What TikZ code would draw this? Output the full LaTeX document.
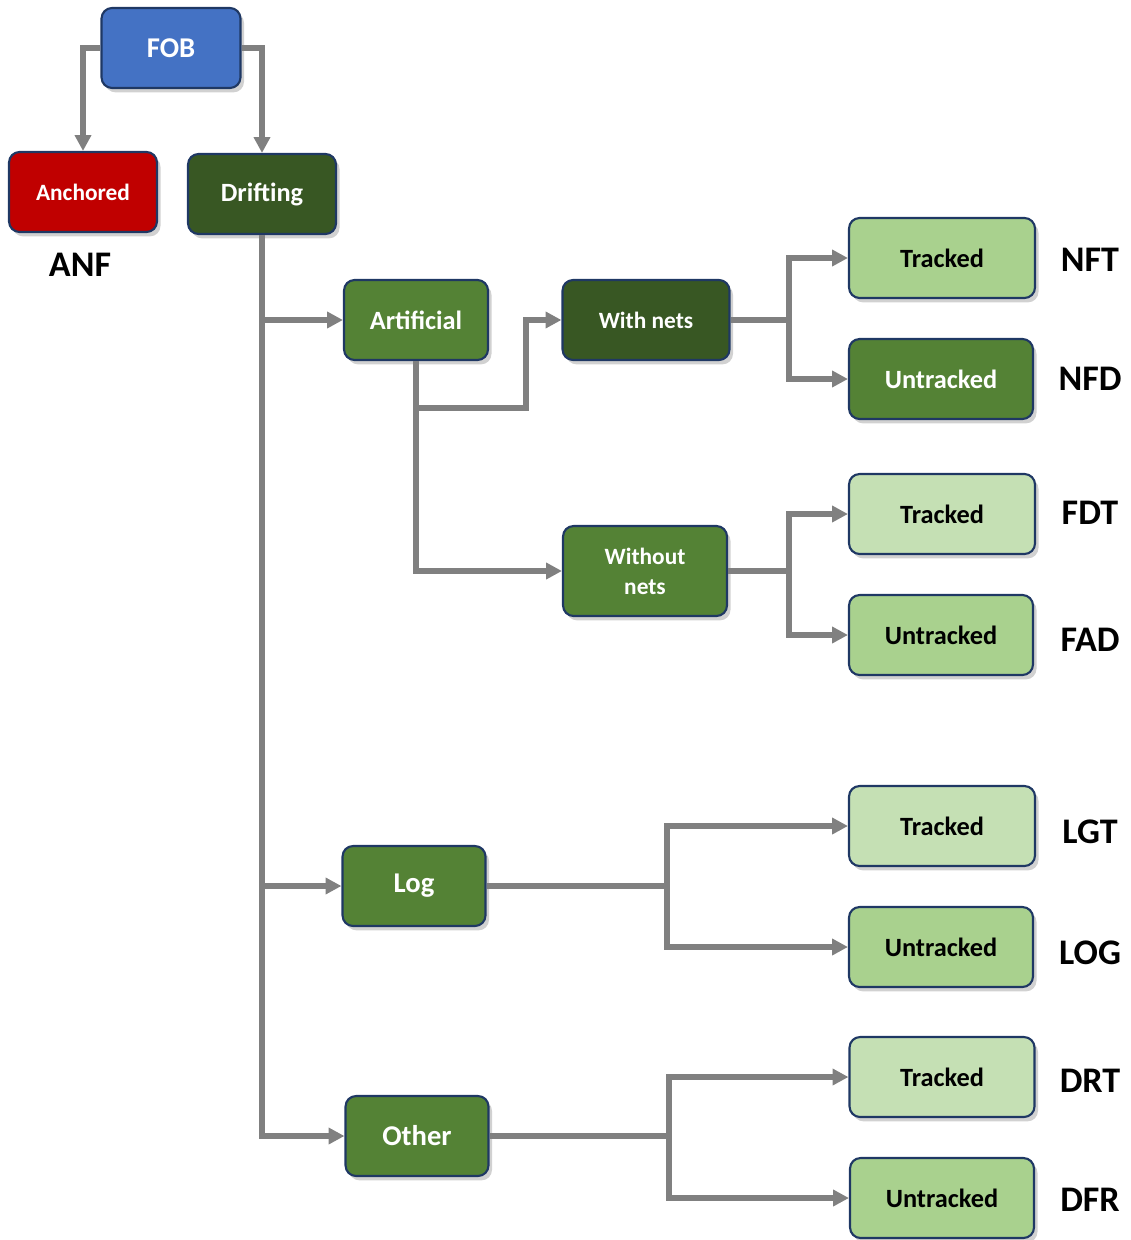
\documentclass[tikz,border=0pt]{standalone}
\usepackage{fontspec}
\setmainfont{Carlito}
\usetikzlibrary{arrows.meta,shadows}
\definecolor{edge}{HTML}{1F3864}
\definecolor{blu}{HTML}{4472C4}
\definecolor{red1}{HTML}{C00000}
\definecolor{dk}{HTML}{385723}
\definecolor{md}{HTML}{548235}
\definecolor{lg}{HTML}{A9D18E}
\definecolor{pl}{HTML}{C5E0B4}
\definecolor{wire}{HTML}{808080}
\tikzset{
  box/.style={draw=edge,line width=1.2pt,rounded corners=6pt,align=center,inner sep=2pt,
    minimum height=1.6cm,font=\bfseries\fontsize{15}{17}\selectfont,
    drop shadow={shadow xshift=2pt,shadow yshift=-2.5pt,opacity=0.3,fill=black!60}},
  dbox/.style={box,fill=dk,text=white},
  mbox/.style={box,fill=md,text=white},
  lbox/.style={box,fill=lg,text=black},
  pbox/.style={box,fill=pl,text=black},
  small/.style={font=\bfseries\fontsize{13.3}{17}\selectfont},
  big/.style={font=\bfseries\fontsize{16.3}{19}\selectfont},
  code/.style={font=\bfseries\fontsize{20.5}{24}\selectfont},
  ar/.style={-{Triangle[length=9pt,width=9pt]},line width=3pt,draw=wire},
  link/.style={line width=3pt,draw=wire},
}
\begin{document}
\begin{tikzpicture}[x=0.02cm,y=-0.02cm]
  \useasboundingbox (0,0) rectangle (1130,1240);
  \node[box,fill=blu,text=white,big,minimum width=2.78cm] (fob) at (171,48) {FOB};
  \node[box,fill=red1,text=white,small,minimum width=2.96cm] (anch) at (83,192) {Anchored};
  \node[dbox,minimum width=2.96cm] (drift) at (262,194) {Drifting};
  \node[code] (anf) at (80,265) {ANF};
  \node[mbox,minimum width=2.88cm] (arti) at (416,320) {Artificial};
  \node[dbox,small,minimum width=3.34cm] (wnet) at (646,320) {With nets};
  \node[mbox,small,minimum width=3.28cm,minimum height=1.8cm] (wonet) at (645,571) {Without\\nets};
  \node[mbox,big,minimum width=2.86cm] (log) at (414,886) {Log};
  \node[mbox,big,minimum width=2.86cm] (oth) at (417,1136) {Other};
  % tracked / untracked
  \node[lbox,minimum width=3.72cm] (nft) at (942,258) {Tracked};
  \node[mbox,minimum width=3.68cm] (nfd) at (941,379) {Untracked};
  \node[pbox,minimum width=3.72cm] (fdt) at (942,514) {Tracked};
  \node[lbox,minimum width=3.68cm] (fad) at (941,635) {Untracked};
  \node[pbox,minimum width=3.72cm] (lgt) at (942,826) {Tracked};
  \node[lbox,minimum width=3.68cm] (lgu) at (941,947) {Untracked};
  \node[pbox,minimum width=3.70cm] (drt) at (942,1077) {Tracked};
  \node[lbox,minimum width=3.68cm] (dfr) at (942,1198) {Untracked};
  \node[code] (nftl) at (1090,260) {NFT};
  \node[code] (nfdl) at (1090,379) {NFD};
  \node[code] (fdtl) at (1090,513) {FDT};
  \node[code] (fadl) at (1090,640) {FAD};
  \node[code] (lgtl) at (1090,832) {LGT};
  \node[code] (logl) at (1090,953) {LOG};
  \node[code] (drtl) at (1090,1081) {DRT};
  \node[code] (dfrl) at (1090,1200) {DFR};
  % joints
  \coordinate (aj) at (416,408);
  \coordinate (ab) at (526,408);
  \coordinate (s1) at (789,320);
  \coordinate (s2) at (789,571);
  \coordinate (s3) at (667,886);
  \coordinate (s4) at (669,1136);
  \draw[ar] (fob.west) -| (anch.north);
  \draw[ar] (fob.east) -| (drift.north);
  \draw[ar] (drift.south) |- (arti.west);
  \draw[ar] (drift.south) |- (log.west);
  \draw[ar] (drift.south) |- (oth.west);
  \draw[ar] (arti.south) -- (aj) -- (ab) |- (wnet.west);
  \draw[ar] (aj) |- (wonet.west);
  \draw[link] (wnet.east) -- (s1);
  \draw[ar] (s1) |- (nft.west);
  \draw[ar] (s1) |- (nfd.west);
  \draw[link] (wonet.east) -- (s2);
  \draw[ar] (s2) |- (fdt.west);
  \draw[ar] (s2) |- (fad.west);
  \draw[link] (log.east) -- (s3);
  \draw[ar] (s3) |- (lgt.west);
  \draw[ar] (s3) |- (lgu.west);
  \draw[link] (oth.east) -- (s4);
  \draw[ar] (s4) |- (drt.west);
  \draw[ar] (s4) |- (dfr.west);
\end{tikzpicture}
\end{document}
